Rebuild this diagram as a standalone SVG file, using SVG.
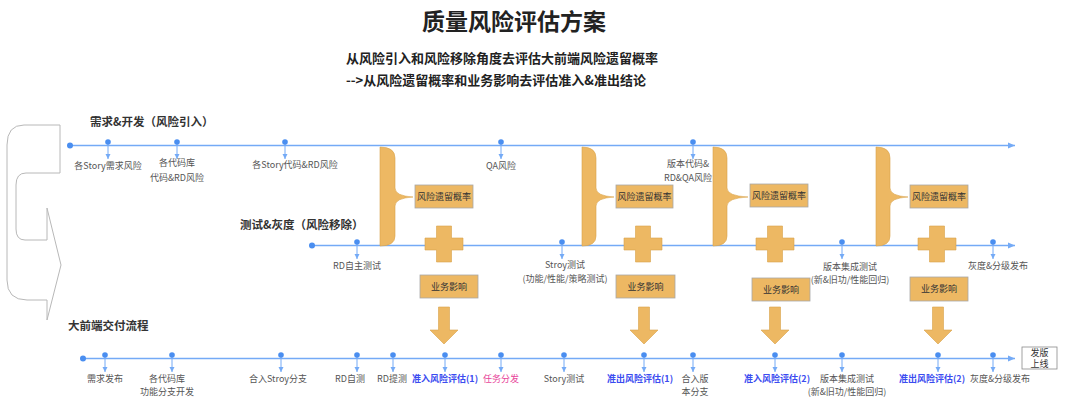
<svg xmlns="http://www.w3.org/2000/svg" width="1080" height="410" viewBox="0 0 1080 410">
<defs>
<style>
text{font-family:"Noto Sans CJK SC","Liberation Sans",sans-serif;}
.title{font-size:23px;font-weight:bold;fill:#222;}
.sub{font-size:13px;font-weight:bold;fill:#222;}
.lane{font-size:11.5px;font-weight:bold;fill:#333;}
.lbl{font-size:9px;fill:#555;text-anchor:middle;}
.blue{font-size:9px;font-weight:bold;fill:#3b4cf0;text-anchor:middle;}
.pink{font-size:9px;fill:#e8459a;text-anchor:middle;}
.box{fill:#EDB863;stroke:#a8a8a8;stroke-width:0.8;}
.bt{font-size:9px;fill:#333;text-anchor:middle;}
.shape{fill:#EDB863;stroke:#d9a24a;stroke-width:0.6;}
.line{stroke:#74aaf6;stroke-width:1.3;fill:none;}
.tick{stroke:#74aaf6;stroke-width:1;fill:none;}
.dot{fill:#4a8ef0;}
</style>
<marker id="ah" markerWidth="8" markerHeight="8" refX="7" refY="4" orient="auto" markerUnits="userSpaceOnUse">
<path d="M0,1 L7,4 L0,7 Z" fill="#74aaf6"/>
</marker>
<marker id="sa" markerWidth="6" markerHeight="6" refX="5" refY="3" orient="auto" markerUnits="userSpaceOnUse">
<path d="M0,0.5 L5,3 L0,5.5 Z" fill="#74aaf6"/>
</marker>
</defs>
<rect width="1080" height="410" fill="#fff"/>

<g id="titles">
<text class="title" x="514" y="30" text-anchor="middle">质量风险评估方案</text>
<text class="sub" x="346" y="63">从风险引入和风险移除角度去评估大前端风险遗留概率</text>
<text class="sub" x="346" y="85">--&gt;从风险遗留概率和业务影响去评估准入&amp;准出结论</text>
<text class="lane" x="90" y="126">需求&amp;开发（风险引入）</text>
<text class="lane" x="240" y="229">测试&amp;灰度（风险移除）</text>
<text class="lane" x="68" y="330">大前端交付流程</text>
</g>

<g id="loop-arrow">
<path d="M60,125 L24,125 Q7,125 7,145 L7,280 Q7,300 27,300 L47,300 L47,320 L61,265 L47,208 L47,240 L25,240 Q16,240 16,229 L16,185 Q16,173 26,173 L60,173 Z" fill="#fff" stroke="#b8b8b8" stroke-width="1"/>
</g>

<g id="connectors">
<line class="line" x1="70" y1="145.5" x2="1015" y2="145.5" marker-end="url(#ah)"/>
<circle class="dot" cx="70" cy="145.5" r="3"/>
<line class="line" x1="312" y1="245.5" x2="1015" y2="245.5" marker-end="url(#ah)"/>
<circle class="dot" cx="312" cy="245.5" r="3"/>
<line class="line" x1="83" y1="358.5" x2="1015" y2="358.5" marker-end="url(#ah)"/>
<circle class="dot" cx="83" cy="358.5" r="3"/>

<g id="ticks1">
<line class="tick" x1="108" y1="142" x2="108" y2="159" marker-end="url(#sa)"/>
<line class="tick" x1="177" y1="142" x2="177" y2="159" marker-end="url(#sa)"/>
<line class="tick" x1="285" y1="142" x2="285" y2="159" marker-end="url(#sa)"/>
<line class="tick" x1="501" y1="142" x2="501" y2="159" marker-end="url(#sa)"/>
<line class="tick" x1="693" y1="142" x2="693" y2="159" marker-end="url(#sa)"/>
<circle class="dot" cx="108" cy="142" r="2.8"/>
<circle class="dot" cx="177" cy="142" r="2.8"/>
<circle class="dot" cx="285" cy="142" r="2.8"/>
<circle class="dot" cx="501" cy="142" r="2.8"/>
<circle class="dot" cx="693" cy="142" r="2.8"/>
</g>
<g id="ticks2">
<line class="tick" x1="357" y1="242" x2="357" y2="259" marker-end="url(#sa)"/>
<line class="tick" x1="562" y1="242" x2="562" y2="259" marker-end="url(#sa)"/>
<line class="tick" x1="842" y1="242" x2="842" y2="259" marker-end="url(#sa)"/>
<line class="tick" x1="993" y1="242" x2="993" y2="259" marker-end="url(#sa)"/>
<circle class="dot" cx="357" cy="242" r="2.8"/>
<circle class="dot" cx="562" cy="242" r="2.8"/>
<circle class="dot" cx="842" cy="242" r="2.8"/>
<circle class="dot" cx="993" cy="242" r="2.8"/>
</g>
<g id="ticks3">
<line class="tick" x1="105" y1="355" x2="105" y2="372" marker-end="url(#sa)"/>
<line class="tick" x1="172" y1="355" x2="172" y2="372" marker-end="url(#sa)"/>
<line class="tick" x1="281" y1="355" x2="281" y2="372" marker-end="url(#sa)"/>
<line class="tick" x1="357" y1="355" x2="357" y2="372" marker-end="url(#sa)"/>
<line class="tick" x1="393" y1="355" x2="393" y2="372" marker-end="url(#sa)"/>
<line class="tick" x1="445" y1="355" x2="445" y2="372" marker-end="url(#sa)"/>
<line class="tick" x1="501" y1="355" x2="501" y2="372" marker-end="url(#sa)"/>
<line class="tick" x1="564" y1="355" x2="564" y2="372" marker-end="url(#sa)"/>
<line class="tick" x1="644" y1="355" x2="644" y2="372" marker-end="url(#sa)"/>
<line class="tick" x1="693" y1="355" x2="693" y2="372" marker-end="url(#sa)"/>
<line class="tick" x1="775" y1="355" x2="775" y2="372" marker-end="url(#sa)"/>
<line class="tick" x1="842" y1="355" x2="842" y2="372" marker-end="url(#sa)"/>
<line class="tick" x1="938" y1="355" x2="938" y2="372" marker-end="url(#sa)"/>
<line class="tick" x1="993" y1="355" x2="993" y2="372" marker-end="url(#sa)"/>
<circle class="dot" cx="105" cy="355" r="2.8"/>
<circle class="dot" cx="172" cy="355" r="2.8"/>
<circle class="dot" cx="281" cy="355" r="2.8"/>
<circle class="dot" cx="357" cy="355" r="2.8"/>
<circle class="dot" cx="393" cy="355" r="2.8"/>
<circle class="dot" cx="445" cy="355" r="2.8"/>
<circle class="dot" cx="501" cy="355" r="2.8"/>
<circle class="dot" cx="564" cy="355" r="2.8"/>
<circle class="dot" cx="644" cy="355" r="2.8"/>
<circle class="dot" cx="693" cy="355" r="2.8"/>
<circle class="dot" cx="775" cy="355" r="2.8"/>
<circle class="dot" cx="842" cy="355" r="2.8"/>
<circle class="dot" cx="938" cy="355" r="2.8"/>
<circle class="dot" cx="993" cy="355" r="2.8"/>
</g>
</g>

<g id="labels-line1">
<text class="lbl" x="108" y="169">各Story需求风险</text>
<text class="lbl" x="177" y="166">各代码库</text>
<text class="lbl" x="177" y="181">代码&amp;RD风险</text>
<text class="lbl" x="295" y="168">各Story代码&amp;RD风险</text>
<text class="lbl" x="501" y="169">QA风险</text>
<text class="lbl" x="688" y="167">版本代码&amp;</text>
<text class="lbl" x="688" y="181">RD&amp;QA风险</text>
</g>
<g id="labels-line2">
<text class="lbl" x="357" y="269">RD自主测试</text>
<text class="lbl" x="565" y="268">Stroy测试</text>
<text class="lbl" x="565" y="282">(功能/性能/策略测试)</text>
<text class="lbl" x="850" y="270">版本集成测试</text>
<text class="lbl" x="850" y="283">(新&amp;旧功/性能回归)</text>
<text class="lbl" x="998" y="269">灰度&amp;分级发布</text>
</g>
<g id="labels-line3">
<text class="lbl" x="105" y="382">需求发布</text>
<text class="lbl" x="167" y="382">各代码库</text>
<text class="lbl" x="167" y="395">功能分支开发</text>
<text class="lbl" x="278" y="382">合入Stroy分支</text>
<text class="lbl" x="350" y="382">RD自测</text>
<text class="lbl" x="392" y="382">RD提测</text>
<text class="blue" x="445" y="382">准入风险评估(1)</text>
<text class="pink" x="501" y="382">任务分发</text>
<text class="lbl" x="564" y="382">Story测试</text>
<text class="blue" x="640" y="382">准出风险评估(1)</text>
<text class="lbl" x="695" y="382">合入版</text>
<text class="lbl" x="695" y="395">本分支</text>
<text class="blue" x="777" y="382">准入风险评估(2)</text>
<text class="lbl" x="847" y="382">版本集成测试</text>
<text class="lbl" x="847" y="395">(新&amp;旧功/性能回归)</text>
<text class="blue" x="932" y="382">准出风险评估(2)</text>
<text class="lbl" x="1000" y="382">灰度&amp;分级发布</text>
</g>

<g id="release">
<rect x="1022" y="347" width="35" height="22" fill="#fff" stroke="#8a8a8a" stroke-width="0.8"/>
<text class="bt" x="1039.5" y="356">发版</text>
<text class="bt" x="1039.5" y="367">上线</text>
</g>

<g id="eval-1">
<path class="shape" d="M380,147 Q395,147 395,158 L395,188 Q395,196 413,197 Q395,198 395,206 L395,236 Q395,246 380,246 Z"/>
<rect class="box" x="415" y="185" width="58" height="23"/>
<text class="bt" x="444" y="200">风险遗留概率</text>
<path class="shape" d="M436.5,226 H451.5 V238 H463 V250 H451.5 V262 H436.5 V250 H425 V238 H436.5 Z"/>
<rect class="box" x="420" y="275" width="58" height="23"/>
<text class="bt" x="449" y="290">业务影响</text>
<path class="shape" d="M438.5,307 H449.5 V330 H458 L444,344 L430,330 H438.5 Z"/>
</g>

<g id="eval-2">
<path class="shape" d="M582,147 Q596,147 596,158 L596,188 Q596,196 614,197 Q596,198 596,206 L596,236 Q596,246 582,246 Z"/>
<rect class="box" x="616" y="185" width="57" height="23"/>
<text class="bt" x="644.5" y="200">风险遗留概率</text>
<path class="shape" d="M635.5,226 H650.5 V238 H662 V250 H650.5 V262 H635.5 V250 H624 V238 H635.5 Z"/>
<rect class="box" x="616" y="275" width="59" height="23"/>
<text class="bt" x="645.5" y="290">业务影响</text>
<path class="shape" d="M638.5,307 H649.5 V330 H658 L644,344 L630,330 H638.5 Z"/>
</g>

<g id="eval-3">
<path class="shape" d="M713,147 Q727,147 727,158 L727,188 Q727,196 748,197 Q727,198 727,206 L727,236 Q727,246 713,246 Z"/>
<rect class="box" x="750" y="184" width="58" height="23"/>
<text class="bt" x="779" y="199">风险遗留概率</text>
<path class="shape" d="M767.5,226 H782.5 V238 H794 V250 H782.5 V262 H767.5 V250 H756 V238 H767.5 Z"/>
<rect class="box" x="752" y="278" width="58" height="23"/>
<text class="bt" x="781" y="293">业务影响</text>
<path class="shape" d="M769.5,307 H780.5 V330 H789 L775,344 L761,330 H769.5 Z"/>
</g>

<g id="eval-4">
<path class="shape" d="M876,147 Q890,147 890,158 L890,188 Q890,196 908,197 Q890,198 890,206 L890,236 Q890,246 876,246 Z"/>
<rect class="box" x="910" y="185" width="58" height="23"/>
<text class="bt" x="939" y="200">风险遗留概率</text>
<path class="shape" d="M929.5,226 H944.5 V238 H956 V250 H944.5 V262 H929.5 V250 H918 V238 H929.5 Z"/>
<rect class="box" x="910" y="277" width="58" height="24"/>
<text class="bt" x="939" y="292">业务影响</text>
<path class="shape" d="M932.5,307 H943.5 V330 H952 L938,344 L924,330 H932.5 Z"/>
</g>
</svg>
